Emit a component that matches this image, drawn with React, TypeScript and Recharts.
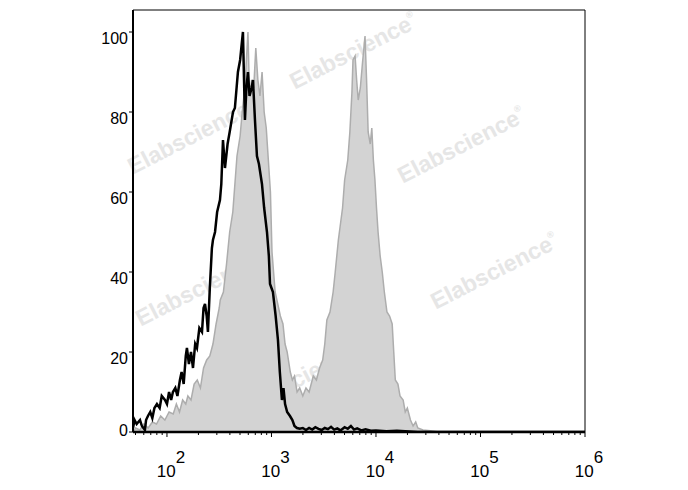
import React from "react";
import { ComposedChart, Area, Line, XAxis, YAxis, ReferenceLine, Customized } from "recharts";

// log10 fluorescence intensity vs. count (% of max)
const grayLog = [1.675,1.70,1.74,1.78,1.82,1.86,1.90,1.94,1.98,2.02,2.06,2.09,2.12,2.15,2.18,2.20,2.23,2.26,2.29,2.32,2.35,2.38,2.41,2.44,2.47,2.50,2.51,2.54,2.57,2.60,2.63,2.65,2.67,2.70,2.72,2.745,2.775,2.79,2.81,2.83,2.85,2.87,2.89,2.91,2.93,2.95,2.97,2.99,3.005,3.02,3.035,3.06,3.085,3.11,3.13,3.15,3.18,3.20,3.22,3.245,3.27,3.30,3.33,3.36,3.40,3.43,3.46,3.49,3.51,3.53,3.56,3.59,3.61,3.64,3.66,3.68,3.70,3.73,3.75,3.77,3.78,3.80,3.815,3.83,3.85,3.87,3.895,3.91,3.925,3.945,3.96,3.975,3.99,4.005,4.02,4.04,4.06,4.08,4.105,4.13,4.155,4.17,4.185,4.21,4.23,4.26,4.28,4.30,4.33,4.355,4.38,4.40,4.45,4.52,4.6,6.0];
const grayCount = [0,1,0.5,2,1,2.5,2,4,3,5,4.5,7,5,8,7,9,8,12,13,11,16,18,19,22,27,31,33,35,42,50,55,62,69,74,80,86,100,84,88,86,96,88,84,90,80,76,68,60,45,40,35,32,29,27,22,20,15,13,14,10,11,9,11,10,14,13,16,18,22,28,30,35,40,48,52,56,63,68,75,85,93,94,88,83,86,92,99,88,75,72,76,68,63,56,50,44,40,35,30,29,27,20,13,12,9,8,5,6,3,1.5,2.5,1,0.5,0.3,0,0];

const blackLog = [1.675,1.69,1.71,1.742,1.76,1.789,1.80,1.818,1.84,1.86,1.88,1.904,1.93,1.95,1.981,2.00,2.02,2.04,2.057,2.08,2.10,2.124,2.14,2.16,2.18,2.191,2.21,2.23,2.249,2.27,2.287,2.31,2.335,2.35,2.364,2.38,2.392,2.41,2.43,2.44,2.46,2.48,2.507,2.52,2.536,2.555,2.58,2.60,2.632,2.65,2.679,2.70,2.727,2.746,2.76,2.775,2.79,2.81,2.823,2.842,2.861,2.88,2.909,2.93,2.957,2.975,2.986,3.00,3.014,3.04,3.062,3.08,3.10,3.115,3.13,3.15,3.177,3.20,3.22,3.244,3.27,3.30,3.33,3.36,3.39,3.42,3.45,3.48,3.51,3.54,3.57,3.60,3.63,3.66,3.70,3.73,3.76,3.79,3.82,3.86,3.90,3.95,4.0,4.1,4.2,4.4,6.0];
const blackCount = [1,3,2,3,1.5,0.5,3,4,5,3.5,6,7,6,9,8,7,10,8,10,11,9,13,15,12,19,21,17,20,16,22,21,26,25,31,32,29,25,36,46,48,50,55,58,62,73,66,72,75,80,81,90,93,100,78,86,90,84,86,88,78,69,67,62,56,50,44,37,36,35,29,23,15,8,11,7,5,4,3,1.5,1,0.8,1,0.5,1,0.6,1.2,0.8,0.5,1,0.7,1.3,0.6,0.9,0.4,1.2,0.8,1.5,0.6,0.9,0.4,0.7,0.3,0.4,0.2,0.3,0,0];

const yTicks = [0, 20, 40, 60, 80, 100];
const decadeExps = [2, 3, 4, 5, 6];
const xMin = 1.675;
const xMax = 6;
const yMax = 105.5;
const watermarkText = "Elabscience";

const grayData = grayLog.map((x, i) => ({ x, y: grayCount[i] }));
const blackData = blackLog.map((x, i) => ({ x, y: blackCount[i] }));

// major decade ticks + minor log ticks (2..9 × 10^k)
const xTicks: number[] = [];
for (let k = 1; k <= 5; k++) {
  for (let m = 1; m <= 9; m++) {
    const v = Math.log10(m * Math.pow(10, k));
    if (v >= xMin - 1e-9 && v <= xMax + 1e-9) xTicks.push(v);
  }
}
xTicks.push(6);

const FONT = "'Liberation Sans', Arial, sans-serif";

const XTick = (props: any) => {
  const { x, y, payload } = props;
  const v = payload.value;
  const major = Math.abs(v - Math.round(v)) < 1e-6 && decadeExps.includes(Math.round(v));
  return (
    <g>
      <line x1={x} x2={x} y1={y} y2={y + (major ? 5 : 3)} stroke="#000" strokeWidth={1} />
      {major && (
        <text x={x + 4} y={y + 45} textAnchor="middle" fontSize={17} fontFamily={FONT} fill="#000">
          10<tspan dy={-14} fontSize={17}>{Math.round(v)}</tspan>
        </text>
      )}
    </g>
  );
};

const YTick = (props: any) => {
  const { x, y, payload } = props;
  const v = payload.value;
  return (
    <g>
      <line x1={x + 5} x2={x + 1} y1={y} y2={y} stroke="#000" strokeWidth={1} />
      <text x={x} y={v === 0 ? y + 4 : y + 12} textAnchor="end" fontSize={16} fontFamily={FONT} fill="#000">
        {v}
      </text>
    </g>
  );
};

const marks = [
  [349, 50],
  [187, 135],
  [457, 144],
  [195, 287],
  [490, 270],
  [295, 377],
];

const Watermarks = () => (
  <g>
    {marks.map(([cx, cy], i) => (
      <text
        key={i}
        x={cx}
        y={cy}
        textAnchor="middle"
        fontSize={23}
        fontWeight="bold"
        fontFamily={FONT}
        fill="#e6e6e6"
        transform={`rotate(-27 ${cx} ${cy})`}
      >
        {watermarkText}
        <tspan fontSize={9} dy={-12}>®</tspan>
      </text>
    ))}
  </g>
);

export default function App() {
  return (
    <ComposedChart width={680} height={482} margin={{ top: 2, right: 103, bottom: 0, left: 0 }}>
      <XAxis
        type="number"
        dataKey="x"
        domain={[xMin, xMax]}
        allowDataOverflow
        ticks={xTicks}
        interval={0}
        tick={<XTick />}
        tickLine={false}
        tickSize={0}
        tickMargin={0}
        axisLine={{ stroke: "#000", strokeWidth: 2.5 }}
        height={58}
      />
      <YAxis
        type="number"
        domain={[0, yMax]}
        allowDataOverflow
        ticks={yTicks}
        interval={0}
        tick={<YTick />}
        tickLine={false}
        tickSize={0}
        tickMargin={5}
        axisLine={{ stroke: "#000", strokeWidth: 2 }}
        width={125}
      />
      <ReferenceLine y={yMax} stroke="#000" strokeWidth={1} ifOverflow="extendDomain" />
      <ReferenceLine x={xMax} stroke="#000" strokeWidth={1} />
      <Area
        data={grayData}
        dataKey="y"
        type="linear"
        fill="#d3d3d3"
        fillOpacity={1}
        stroke="#adadad"
        strokeWidth={1.5}
        isAnimationActive={false}
        dot={false}
        activeDot={false}
      />
      <Customized component={<Watermarks />} />
      <Line
        data={blackData}
        dataKey="y"
        type="linear"
        stroke="#000"
        strokeWidth={2.5}
        dot={false}
        activeDot={false}
        isAnimationActive={false}
      />
    </ComposedChart>
  );
}
